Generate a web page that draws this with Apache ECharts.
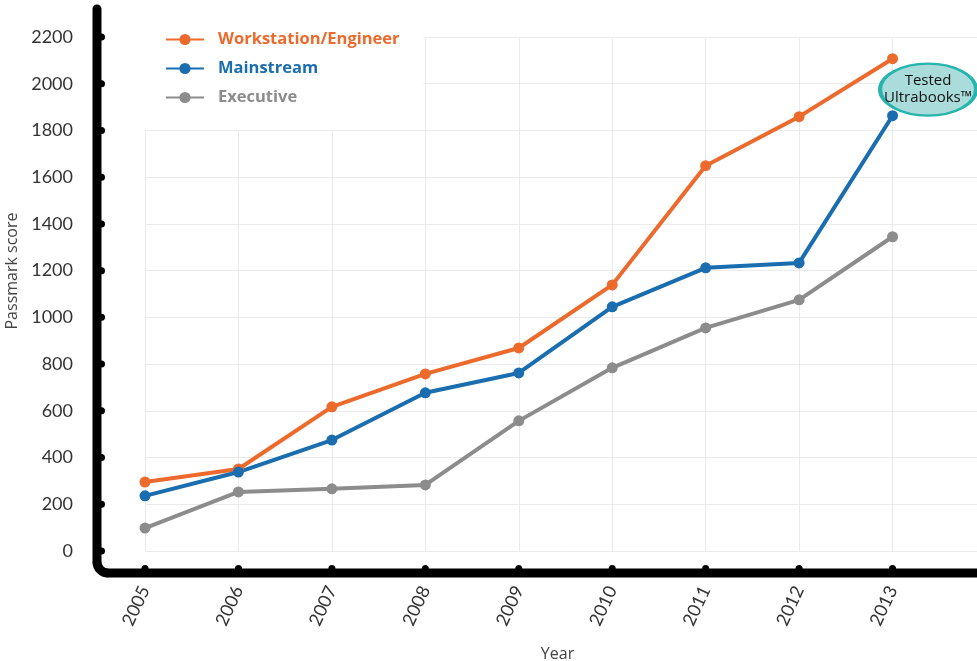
<!DOCTYPE html>
<html>
<head>
<meta charset="utf-8">
<script src="https://cdn.jsdelivr.net/npm/echarts@6/dist/echarts.min.js"></script>
<style>
  html, body { margin: 0; padding: 0; background: #fff; }
  #main { width: 977px; height: 661px; }
</style>
</head>
<body>
<div id="main"></div>
<script>
// years on the x axis (2014 only closes the grid on the right)
var years = [2005, 2006, 2007, 2008, 2009, 2010, 2011, 2012, 2013];
var yTicks = [0, 200, 400, 600, 800, 1000, 1200, 1400, 1600, 1800, 2000, 2200];

// Passmark scores
var workstation = [295, 351, 617, 758, 869, 1139, 1649, 1859, 2107];
var mainstream = [236, 338, 475, 677, 762, 1045, 1212, 1233, 1863];
var executive = [98, 253, 266, 283, 557, 784, 955, 1075, 1345];

var seriesNames = ['Workstation/Engineer', 'Mainstream', 'Executive'];
var seriesColors = ['#EC6A2C', '#1A6DAF', '#8C8C8C'];

var font = 'Lato, "Open Sans", sans-serif';
var boldFont = '"Open Sans", Lato, sans-serif';

function pairs(vals) {
  return years.map(function (y, i) { return [y, vals[i]]; });
}

var myChart = echarts.init(document.getElementById('main'));

function lineSeries(name, vals, color) {
  return {
    name: name,
    type: 'line',
    data: pairs(vals),
    symbol: 'circle',
    symbolSize: 11,
    z: 3,
    itemStyle: { color: color },
    lineStyle: { color: color, width: 4 }
  };
}

var series = [
  lineSeries(seriesNames[0], workstation, seriesColors[0]),
  lineSeries(seriesNames[1], mainstream, seriesColors[1]),
  lineSeries(seriesNames[2], executive, seriesColors[2])
];

// the "Tested Ultrabooks" bubble next to the 2013 points
series[0].markPoint = {
  symbol: 'circle',
  symbolSize: [96, 52],
  silent: true,
  itemStyle: { color: '#A9DCDA', borderColor: '#26B4AD', borderWidth: 3 },
  label: {
    show: true,
    position: 'inside',
    formatter: 'Tested\nUltrabooks\u2122',
    color: '#111',
    fontSize: 15,
    lineHeight: 17,
    fontFamily: boldFont
  },
  data: [{ coord: [2013.38, 1975] }]
};

var option = {
  backgroundColor: '#fff',
  animation: false,
  grid: { left: 145, right: -9, top: 37, bottom: 110, containLabel: false, outerBoundsMode: 'none' },
  legend: {
    orient: 'vertical',
    left: 160,
    top: 26,
    itemWidth: 38,
    itemHeight: 14,
    itemGap: 12,
    data: seriesNames.map(function (n, i) {
      return { name: n, textStyle: { color: seriesColors[i] } };
    }),
    textStyle: { fontSize: 16.5, fontWeight: 'bold', fontFamily: boldFont, padding: [0, 0, 0, 9] }
  },
  xAxis: {
    type: 'value',
    min: 2005,
    max: 2014,
    interval: 1,
    offset: 22,
    name: 'Year',
    nameLocation: 'middle',
    nameGap: 73,
    nameTextStyle: { fontSize: 16, color: '#444', fontFamily: boldFont, padding: [0, 16, 0, 0] },
    axisLine: { show: false },
    axisTick: { show: false },
    axisLabel: {
      rotate: 65,
      margin: 14,
      fontSize: 18,
      color: '#333',
      fontFamily: font,
      formatter: function (v) { return years.indexOf(v) >= 0 ? String(v) : ''; }
    },
    splitLine: { show: true, lineStyle: { color: '#ebebeb', width: 1 } }
  },
  yAxis: {
    type: 'value',
    min: 0,
    max: 2200,
    interval: 200,
    offset: 48,
    name: 'Passmark score',
    nameLocation: 'middle',
    nameGap: 71,
    nameTextStyle: { fontSize: 16, color: '#444', fontFamily: boldFont, padding: [0, 0, 0, 46] },
    axisLine: { show: false },
    axisTick: { show: false },
    axisLabel: {
      margin: 24,
      fontSize: 18,
      color: '#333',
      fontFamily: font,
      formatter: function (v) { return yTicks.indexOf(v) >= 0 ? String(v) : ''; }
    },
    splitLine: { show: true, lineStyle: { color: '#ebebeb', width: 1 } }
  },
  series: series
};

myChart.setOption(option);

// thick black frame with a rounded corner, tick dots, and a white patch behind the legend
var x0 = myChart.convertToPixel({ xAxisIndex: 0 }, 2005);
var x8 = myChart.convertToPixel({ xAxisIndex: 0 }, 2008);
var yBase = myChart.convertToPixel({ yAxisIndex: 0 }, 0);
var yTop = myChart.convertToPixel({ yAxisIndex: 0 }, 2200);
var y18 = myChart.convertToPixel({ yAxisIndex: 0 }, 1800);
var axX = x0 - 48;
var axY = yBase + 22;
var r = 11;
var lw = 9;
var frameStyle = { stroke: '#000', lineWidth: lw, fill: null, lineCap: 'round' };

var graphics = [
  {
    type: 'rect', z: 1, silent: true,
    shape: { x: x0 - 3, y: yTop - 3, width: x8 - x0 + 1, height: y18 - yTop + 2 },
    style: { fill: '#fff' }
  },
  {
    type: 'line', z: 5, silent: true,
    shape: { x1: axX, y1: yTop - 28, x2: axX, y2: axY - r },
    style: frameStyle
  },
  {
    type: 'arc', z: 5, silent: true,
    shape: { cx: axX + r, cy: axY - r, r: r, startAngle: Math.PI / 2, endAngle: Math.PI, clockwise: true },
    style: { stroke: '#000', lineWidth: lw, fill: null }
  },
  {
    type: 'line', z: 5, silent: true,
    shape: { x1: axX + r, y1: axY, x2: 990, y2: axY },
    style: frameStyle
  }
];

years.forEach(function (yr) {
  graphics.push({
    type: 'circle', z: 5, silent: true,
    shape: { cx: myChart.convertToPixel({ xAxisIndex: 0 }, yr), cy: axY - lw / 2, r: 3.5 },
    style: { fill: '#000' }
  });
});
yTicks.forEach(function (v) {
  graphics.push({
    type: 'circle', z: 5, silent: true,
    shape: { cx: axX + lw / 2, cy: myChart.convertToPixel({ yAxisIndex: 0 }, v), r: 3.5 },
    style: { fill: '#000' }
  });
});

myChart.setOption({ graphic: graphics });
</script>
</body>
</html>
